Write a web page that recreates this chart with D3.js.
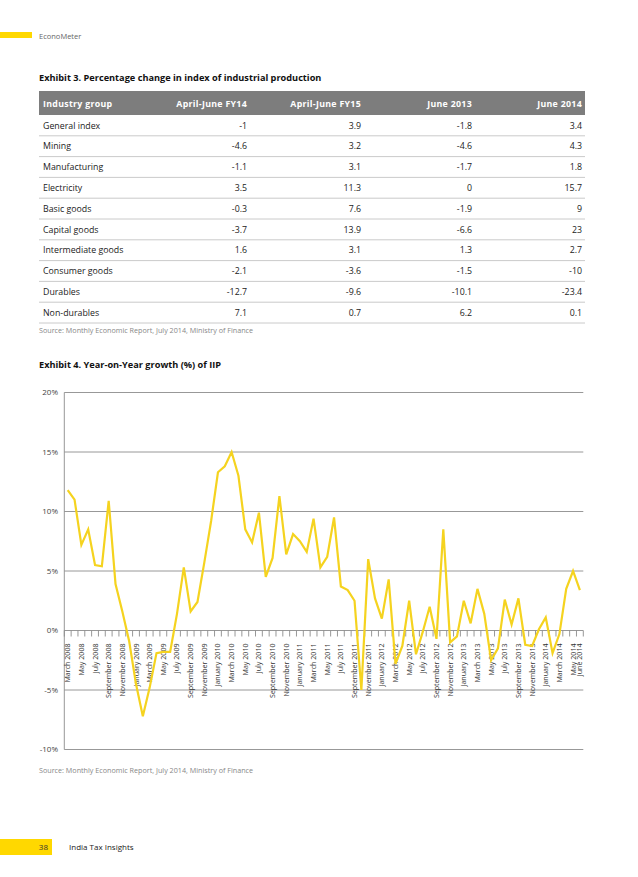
<!DOCTYPE html>
<html>
<head>
<meta charset="utf-8">
<script src="https://cdn.jsdelivr.net/npm/d3@7"></script>
<style>
  html, body { margin: 0; padding: 0; background: #fff; }
  svg text { font-family: "Open Sans", Lato, sans-serif; }
</style>
</head>
<body>
<div id="page"></div>
<script>
////////////////////////////////////////////////////////////////////
////////////////////////////  Data  ////////////////////////////////

// Exhibit 3 table
const tableHeaders = ["Industry group", "April-June FY14", "April-June FY15", "June 2013", "June 2014"];
const industryGroups = ["General index", "Mining", "Manufacturing", "Electricity", "Basic goods",
  "Capital goods", "Intermediate goods", "Consumer goods", "Durables", "Non-durables"];
const aprJunFY14 = ["-1", "-4.6", "-1.1", "3.5", "-0.3", "-3.7", "1.6", "-2.1", "-12.7", "7.1"];
const aprJunFY15 = ["3.9", "3.2", "3.1", "11.3", "7.6", "13.9", "3.1", "-3.6", "-9.6", "0.7"];
const june2013 = ["-1.8", "-4.6", "-1.7", "0", "-1.9", "-6.6", "1.3", "-1.5", "-10.1", "6.2"];
const june2014 = ["3.4", "4.3", "1.8", "15.7", "9", "23", "2.7", "-10", "-23.4", "0.1"];

// Exhibit 4 chart: monthly YoY growth, March 2008 .. June 2014
const months = d3.timeMonths(new Date(2008, 2, 1), new Date(2014, 6, 1));
const iipGrowth = [
  11.8, 11.0, 7.2, 8.5, 5.5, 5.4, 10.9, 3.9, 1.6, -0.9, -4.5, -7.2,
  -4.8, -1.9, -1.8, -1.8, 1.4, 5.3, 1.6, 2.4, 5.7, 9.2, 13.3, 13.8,
  15.0, 13.0, 8.5, 7.4, 9.9, 4.5, 6.1, 11.3, 6.4, 8.1, 7.5, 6.6,
  9.4, 5.3, 6.2, 9.5, 3.7, 3.4, 2.5, -5.0, 6.0, 2.7, 1.0, 4.3,
  -2.8, -1.3, 2.5, -2.0, -0.1, 2.0, -0.7, 8.5, -1.0, -0.5, 2.5, 0.6,
  3.5, 1.4, -2.5, -1.5, 2.6, 0.5, 2.7, -1.2, -1.3, 0.1, 1.1, -1.9,
  -0.3, 3.5, 5.0, 3.4
];
const yTicks = [20, 15, 10, 5, 0, -5, -10];
const xTickLabels = [
  "March 2008", "May 2008", "July 2008", "September 2008", "November 2008",
  "January 2009", "March 2009", "May 2009", "July 2009", "September 2009", "November 2009",
  "January 2010", "March 2010", "May 2010", "July 2010", "September 2010", "November 2010",
  "January 2011", "March 2011", "May 2011", "July 2011", "September 2011", "November 2011",
  "January 2012", "March 2012", "May 2012", "July 2012", "September 2012", "November 2012",
  "January 2013", "March 2013", "May 2013", "July 2013", "September 2013", "November 2013",
  "January 2014", "March 2014", "May 2014", "June 2014"
];

////////////////////////////////////////////////////////////////////
////////////////////////////  Page  ////////////////////////////////

const width = 638, height = 877;
const yellow = "#ffd800";
const svg = d3.select("#page").append("svg").attr("width", width).attr("height", height);

// header strip
svg.append("rect").attr("x", 0).attr("y", 32).attr("width", 32).attr("height", 6).attr("fill", yellow);
svg.append("text").attr("x", 39).attr("y", 38.5).text("EconoMeter")
  .attr("font-size", 7.5).attr("fill", "#666");

// footer
svg.append("rect").attr("x", 0).attr("y", 839).attr("width", 52).attr("height", 16).attr("fill", yellow);
svg.append("text").attr("x", 48).attr("y", 850).attr("text-anchor", "end").text("38")
  .attr("font-size", 8).attr("fill", "#333");
svg.append("text").attr("x", 69).attr("y", 850).text("India Tax Insights")
  .attr("font-size", 8).attr("fill", "#222");

////////////////////////////////////////////////////////////////////
////////////////////////////  Table  ///////////////////////////////

svg.append("text").attr("x", 39).attr("y", 81)
  .text("Exhibit 3. Percentage change in index of industrial production")
  .attr("font-size", 9.2).attr("font-weight", "bold").attr("fill", "#111");

const tblLeft = 39, tblRight = 585;
const colX = d3.scaleOrdinal().domain(d3.range(5)).range([43, 247, 361, 472, 582]);
const rowY = d3.scaleBand().domain(d3.range(industryGroups.length)).range([115, 323]);

svg.append("rect").attr("x", tblLeft).attr("y", 91).attr("width", tblRight - tblLeft).attr("height", 24)
  .attr("fill", "#7d7d7d");

svg.selectAll(".hdr").data(tableHeaders).enter().append("text")
  .attr("x", (d, i) => colX(i))
  .attr("y", 106.5)
  .attr("text-anchor", (d, i) => i === 0 ? "start" : "end")
  .attr("font-size", 8.8).attr("font-weight", "bold").attr("fill", "#fff")
  .attr("letter-spacing", 0.3)
  .text(d => d);

const rows = industryGroups.map((g, i) => [g, aprJunFY14[i], aprJunFY15[i], june2013[i], june2014[i]]);

const rowG = svg.selectAll(".row").data(rows).enter().append("g")
  .attr("transform", (d, i) => `translate(0, ${rowY(i)})`);

rowG.selectAll("text").data(d => d).enter().append("text")
  .attr("x", (d, i) => colX(i))
  .attr("y", rowY.bandwidth() / 2 + 3.2)
  .attr("text-anchor", (d, i) => i === 0 ? "start" : "end")
  .attr("font-size", 8.8).attr("fill", "#222")
  .text(d => d);

rowG.append("line")
  .attr("x1", tblLeft).attr("x2", tblRight)
  .attr("y1", rowY.bandwidth()).attr("y2", rowY.bandwidth())
  .attr("stroke", "#bdbdbd").attr("stroke-width", 0.8);

svg.append("text").attr("x", 39).attr("y", 333)
  .text("Source: Monthly Economic Report, July 2014, Ministry of Finance")
  .attr("font-size", 7.2).attr("fill", "#888");

////////////////////////////////////////////////////////////////////
////////////////////////////  Chart  ///////////////////////////////

svg.append("text").attr("x", 39).attr("y", 368)
  .text("Exhibit 4. Year-on-Year growth (%) of IIP")
  .attr("font-size", 9.2).attr("font-weight", "bold").attr("fill", "#111");

const x = d3.scaleBand().domain(d3.range(months.length)).range([64.3, 583.3]);
const y = d3.scaleLinear().domain([-10, 20]).range([749.5, 392.5]);
const fmt = d3.timeFormat("%B %Y");

const chart = svg.append("g");

// gridlines
chart.selectAll(".grid").data(yTicks).enter().append("line")
  .attr("x1", x.range()[0]).attr("x2", x.range()[1])
  .attr("y1", d => y(d)).attr("y2", d => y(d))
  .attr("stroke", "#8c8c8c").attr("stroke-width", 0.9);

// y axis line
chart.append("line")
  .attr("x1", x.range()[0]).attr("x2", x.range()[0])
  .attr("y1", y(20)).attr("y2", y(-10))
  .attr("stroke", "#8c8c8c").attr("stroke-width", 0.9);

chart.selectAll(".ylab").data(yTicks).enter().append("text")
  .attr("x", 58).attr("y", d => y(d) + 2.8)
  .attr("text-anchor", "end").attr("font-size", 8).attr("fill", "#444")
  .text(d => d + "%");

// ticks on the zero line, at every month boundary
const bounds = d3.range(months.length + 1).map(i => x.range()[0] + i * x.step());
chart.selectAll(".tick").data(bounds).enter().append("line")
  .attr("x1", d => d).attr("x2", d => d)
  .attr("y1", y(0)).attr("y2", y(0) + 6)
  .attr("stroke", "#8c8c8c").attr("stroke-width", 0.9);

// month labels
const labelled = months.map((m, i) => i).filter(i => xTickLabels.includes(fmt(months[i])));
chart.selectAll(".xlab").data(labelled).enter().append("text")
  .attr("transform", i => `translate(${x(i) + x.bandwidth() / 2 + 2.5}, ${y(0) + 13}) rotate(-90)`)
  .attr("text-anchor", "end").attr("font-size", 7.1).attr("fill", "#333")
  .text(i => fmt(months[i]));

// growth line
const line = d3.line()
  .x((d, i) => x(i) + x.bandwidth() / 2)
  .y(d => y(d));

chart.append("path").datum(iipGrowth)
  .attr("d", line)
  .attr("fill", "none")
  .attr("stroke", "#f5d31f")
  .attr("stroke-width", 2.2)
  .attr("stroke-linejoin", "miter");

svg.append("text").attr("x", 39).attr("y", 773)
  .text("Source: Monthly Economic Report, July 2014, Ministry of Finance")
  .attr("font-size", 7.2).attr("fill", "#888");
</script>
</body>
</html>
